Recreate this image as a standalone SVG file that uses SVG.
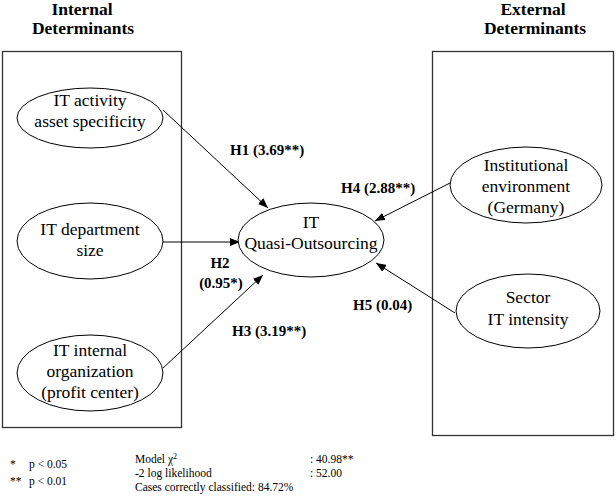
<svg xmlns="http://www.w3.org/2000/svg" width="616" height="499" viewBox="0 0 616 499" font-family="'Liberation Serif', 'Times New Roman', Times, 'DejaVu Serif', serif">
<defs>
<style>
text{font-family:'Liberation Serif','Times New Roman',Times,'DejaVu Serif',serif;fill:#000}
.frame{fill:none;stroke:#333;stroke-width:1.3}
.node{fill:#fff;stroke:#000;stroke-width:1}
.t{font-size:17.5px;text-anchor:middle}
.title{font-size:17.5px;font-weight:bold;text-anchor:middle}
.lab{font-size:15px;font-weight:bold}
.note{font-size:11.5px}
.edge{stroke:#000;stroke-width:1;fill:none;marker-end:url(#ah)}
</style>
<marker id="ah" viewBox="0 0 10 8" refX="10" refY="4" markerWidth="10" markerHeight="8" markerUnits="userSpaceOnUse" orient="auto">
<path d="M0,0 L10,4 L0,8 z" fill="#000"/>
</marker>
</defs>
<rect width="616" height="499" fill="#fff"/>
<g id="internal-box">
<rect class="frame" x="2.5" y="51.5" width="179" height="376"/>
<text class="title" x="82" y="15">Internal</text>
<text class="title" x="83" y="34">Determinants</text>
</g>
<g id="external-box">
<rect class="frame" x="432.5" y="51.5" width="181" height="384"/>
<text class="title" x="533" y="15">External</text>
<text class="title" x="535" y="34">Determinants</text>
</g>
<g id="connectors">
<line class="edge" x1="163" y1="110" x2="268" y2="208"/>
<line class="edge" x1="163" y1="242" x2="240" y2="242"/>
<line class="edge" x1="163" y1="368" x2="263" y2="275"/>
<line class="edge" x1="452" y1="182" x2="375" y2="221"/>
<line class="edge" x1="455" y1="313" x2="376" y2="263"/>
<text class="lab" x="230" y="155">H1 (3.69**)</text>
<text class="lab" x="341" y="193">H4 (2.88**)</text>
<text class="lab" x="220" y="268" text-anchor="middle">H2</text>
<text class="lab" x="221" y="288" text-anchor="middle">(0.95*)</text>
<text class="lab" x="353" y="310">H5 (0.04)</text>
<text class="lab" x="232" y="336">H3 (3.19**)</text>
</g>
<g id="n-asset">
<ellipse class="node" cx="90" cy="118" rx="73" ry="30"/>
<text class="t" x="90" y="106">IT activity</text>
<text class="t" x="90" y="127">asset specificity</text>
</g>
<g id="n-size">
<ellipse class="node" cx="90" cy="241" rx="73" ry="38"/>
<text class="t" x="90" y="235">IT department</text>
<text class="t" x="90" y="256">size</text>
</g>
<g id="n-org">
<ellipse class="node" cx="90" cy="373" rx="73" ry="38"/>
<text class="t" x="90" y="356">IT internal</text>
<text class="t" x="90" y="377">organization</text>
<text class="t" x="90" y="398">(profit center)</text>
</g>
<g id="n-quasi">
<ellipse class="node" cx="311" cy="240" rx="73" ry="37"/>
<text class="t" x="311" y="228">IT</text>
<text class="t" x="311" y="249">Quasi-Outsourcing</text>
</g>
<g id="n-inst">
<ellipse class="node" cx="526" cy="185" rx="76" ry="38"/>
<text class="t" x="526" y="171">Institutional</text>
<text class="t" x="526" y="192">environment</text>
<text class="t" x="526" y="213">(Germany)</text>
</g>
<g id="n-sector">
<ellipse class="node" cx="528" cy="311" rx="72" ry="37"/>
<text class="t" x="528" y="303">Sector</text>
<text class="t" x="528" y="325">IT intensity</text>
</g>
<g id="notes">
<text class="note" x="10" y="468">*</text>
<text class="note" x="29" y="468">p &lt; 0.05</text>
<text class="note" x="10" y="485">**</text>
<text class="note" x="29" y="485">p &lt; 0.01</text>
<text class="note" x="135" y="463">Model χ<tspan font-size="8px" dy="-4">2</tspan></text>
<text class="note" x="135" y="477">-2 log likelihood</text>
<text class="note" x="135" y="491">Cases correctly classified: 84.72%</text>
<text class="note" x="310" y="463">: 40.98**</text>
<text class="note" x="310" y="477">: 52.00</text>
</g>
</svg>
